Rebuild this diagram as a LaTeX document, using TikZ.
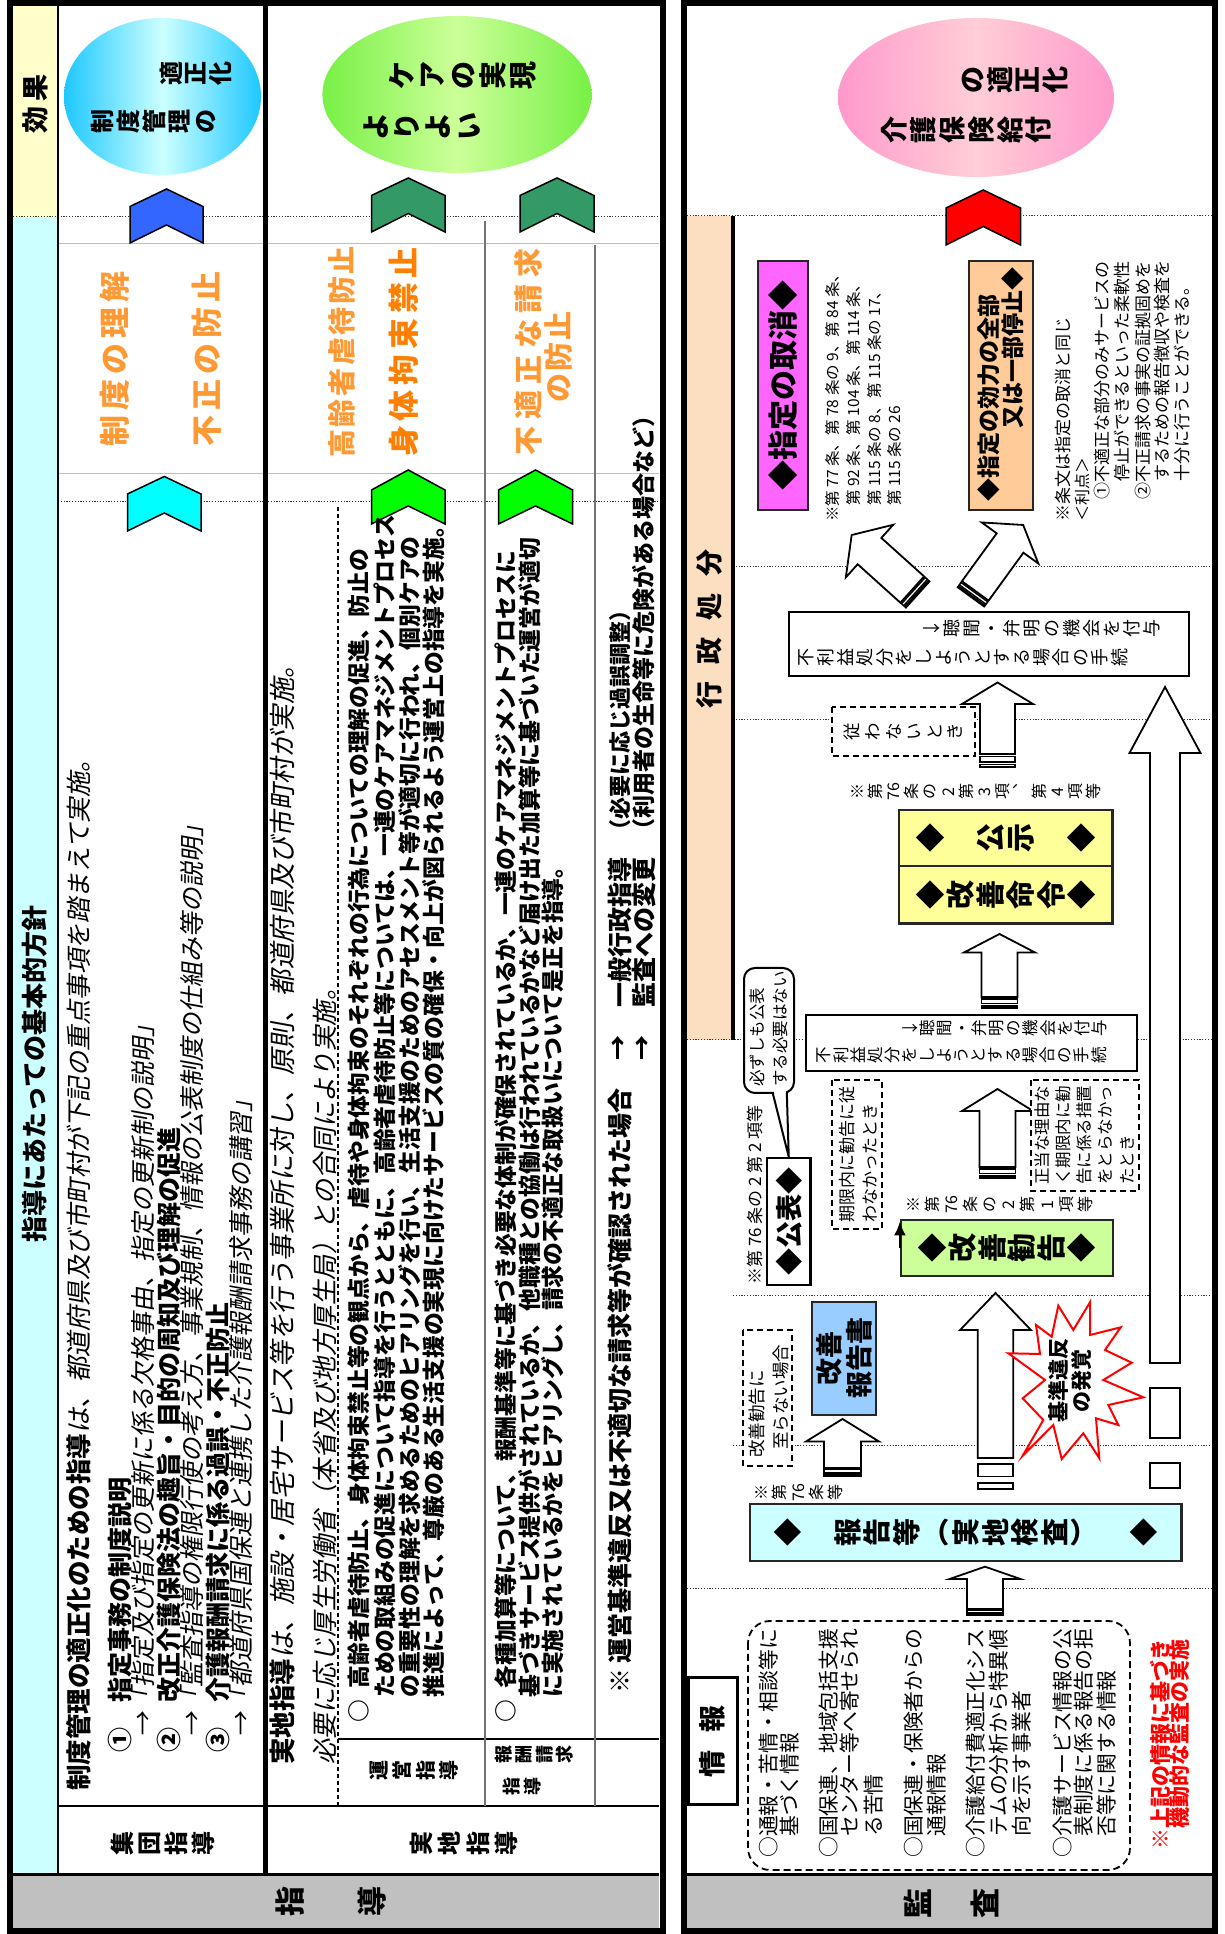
\documentclass[tikz,border=0pt]{standalone}
\usepackage{fontspec}
\setmainfont{Noto Sans CJK JP}
\newfontfamily\jpsl[FakeSlant=0.18]{Noto Sans CJK JP}
\usetikzlibrary{arrows.meta}
\ExplSyntaxOn
\NewDocumentCommand\vst{m}
 {
  \seq_clear:N \l_tmpa_seq
  \tl_map_inline:nn {#1} { \seq_put_right:Nn \l_tmpa_seq {##1} }
  \seq_use:Nn \l_tmpa_seq {\\}
 }
\NewDocumentCommand\spc{mm}
 {
  \seq_clear:N \l_tmpb_seq
  \tl_map_inline:nn {#2} { \seq_put_right:Nn \l_tmpb_seq {##1} }
  \seq_use:Nn \l_tmpb_seq {\hspace{#1}}
 }
\ExplSyntaxOff
\newcommand\fs[2]{\fontsize{#1}{#2}\selectfont\lineskiplimit=-1000pt\lineskip=0pt\relax}
\definecolor{cyanbg}{RGB}{204,255,255}
\definecolor{yelbg}{RGB}{255,255,204}
\definecolor{graybg}{RGB}{192,192,192}
\definecolor{peach}{RGB}{252,222,192}
\definecolor{orng}{RGB}{255,153,51}
\definecolor{orng2}{RGB}{255,128,0}
\definecolor{chblue}{RGB}{51,102,255}
\definecolor{chcyan}{RGB}{0,255,255}
\definecolor{chdkgreen}{RGB}{51,153,102}
\definecolor{chgreen}{RGB}{0,255,0}
\definecolor{chred}{RGB}{255,0,0}
\definecolor{bxcyan}{RGB}{204,255,255}
\definecolor{bxblue}{RGB}{153,204,255}
\definecolor{bxgreen}{RGB}{204,255,153}
\definecolor{bxyel}{RGB}{255,255,153}
\definecolor{bxmag}{RGB}{255,102,255}
\definecolor{bxorg}{RGB}{255,204,153}
\definecolor{elb1}{RGB}{30,200,255}
\definecolor{elb2}{RGB}{204,255,255}
\definecolor{elg1}{RGB}{120,240,70}
\definecolor{elg2}{RGB}{204,255,153}
\definecolor{elp1}{RGB}{255,153,204}
\definecolor{elp2}{RGB}{255,206,214}
\tikzset{
  tx/.style={inner sep=0pt, align=center},
  box/.style={draw=black!85, line width=2.2pt, inner sep=0pt, align=center},
  dbox/.style={draw=black, line width=1.8pt, dash pattern=on 6pt off 4pt, fill=white, inner sep=0pt, align=center},
  dotl/.style={line width=1pt, dash pattern=on 1.2pt off 1.6pt, draw=black!80},
}
\newcommand\chev[7]{\filldraw[fill=#1,draw=black,line width=1.5pt] (#4,-#2) -- (#6,-#2) -- (#7,{-(#2+#3)/2}) -- (#6,-#3) -- (#4,-#3) -- (#5,{-(#2+#3)/2}) -- cycle;}
% tail x, tail y, angle, length, shaft half, head half, head length, stripe unit
\newcommand\sarrow[8]{%
\begin{scope}[shift={(#1,#2)},rotate=#3]
\filldraw[fill=white,draw=black,line width=1.8pt,line join=miter] ({5*#8},-#5) -- ({#4-#7},-#5) -- ({#4-#7},-#6) -- (#4,0) -- ({#4-#7},#6) -- ({#4-#7},#5) -- ({5*#8},#5) -- cycle;
\filldraw[fill=white,draw=black,line width=1.5pt] (0,-#5) rectangle (#8,#5);
\filldraw[fill=white,draw=black,line width=1.5pt] ({2*#8},-#5) rectangle ({4*#8},#5);
\end{scope}}
\begin{document}
\begin{tikzpicture}[x=1pt,y=1pt]
\useasboundingbox (0,0) rectangle (1225,1934);
\fill[white] (0,0) rectangle (1225,1934);
\begin{scope}[rotate=90,transform shape]
\fill[graybg] (6,-13) rectangle (59,-659);
\fill[cyanbg] (59,-13) rectangle (1717,-58);
\fill[yelbg] (1717,-13) rectangle (1928,-58);
\fill[graybg] (6,-687) rectangle (59,-1212);
\fill[peach] (894,-687) rectangle (1718,-733);
\draw[dotl] (1717,-13) -- (1717,-659);
\draw[dotl] (1432,-58) -- (1432,-659);
\draw[dotl] (1718,-687) -- (1718,-1212);
\draw[dotl] (1367,-733) -- (1367,-1212);
\draw[dotl] (1214,-733) -- (1214,-1212);
\draw[dotl] (894,-687) -- (894,-1212);
\draw[dotl] (638,-733) -- (638,-1212);
\draw[dotl] (488,-733) -- (488,-1212);
\draw[dotl] (345,-687) -- (345,-1212);
\draw[black!25,line width=0.8pt] (1461,-58) -- (1461,-659);
\draw[black!25,line width=0.8pt] (1691,-58) -- (1691,-659);
\draw[line width=3pt] (59,-13) -- (59,-659);
\draw[line width=2.5pt] (59,-58) -- (1928,-58);
\draw[line width=5pt] (59,-265) -- (1928,-265);
\draw[line width=2.5pt] (128,-58) -- (128,-659);
\draw[line width=2.5pt] (195,-338) -- (195,-659);
\draw[line width=1.5pt,dash pattern=on 4pt off 3pt] (128,-338) -- (1427,-338);
\draw[black!55,line width=1.8pt] (128,-485) -- (1713,-485);
\draw[black!55,line width=1.8pt] (128,-595) -- (1689,-595);
\draw[line width=3pt] (59,-687) -- (59,-1212);
\draw[line width=4pt] (894,-733) -- (1718,-733);
\end{scope}
% ellipses (portrait frame)
\shade[left color=elb1,right color=elb1,middle color=elb2] (162.5,1837.5) ellipse [x radius=98.5, y radius=78.5];
\shade[left color=elg1,right color=elg1,middle color=elg2] (457,1839.5) ellipse [x radius=134.6, y radius=78.5];
\shade[left color=elp1,right color=elp1,middle color=elp2] (976,1836.5) ellipse [x radius=138, y radius=79.5];
\begin{scope}[rotate=90,transform shape]
% chevrons
\chev{chblue}{130}{203}{1691}{1709}{1727.5}{1745}
\chev{chcyan}{127.5}{201}{1403}{1421}{1440}{1457.5}
\chev{chdkgreen}{371.5}{445}{1702}{1720.5}{1738.5}{1756}
\chev{chdkgreen}{520}{594}{1702}{1720.5}{1738.5}{1756}
\chev{chgreen}{371.5}{445}{1410}{1428}{1444}{1464}
\chev{chgreen}{498.5}{572.6}{1410}{1428}{1444}{1464}
\chev{chred}{946}{1020.5}{1689}{1707.5}{1726}{1744}
% header texts
\node[tx,font=\fs{26}{28}\bfseries] (title) at (860,-35) {指導にあたっての基本的方針};
\node[tx,font=\fs{27}{30}\bfseries] (kouka) at (1830,-35) {\spc{5pt}{効果}};
\node[tx,font=\fs{30}{82}\bfseries] (shidou) at (32,-331) {\vst{指導}};
\node[tx,font=\fs{30}{67}\bfseries] (kansa) at (30,-951.5) {\vst{監査}};
\node[tx,font=\fs{24}{27}\bfseries] (lab1) at (90,-162.6) {\vst{集団指導}};
\node[tx,font=\fs{24}{28.5}\bfseries] (lab2) at (90,-464) {\vst{実地指導}};
\node[tx,font=\fs{20}{23.5}\bfseries] (lab3) at (163,-414) {\vst{運営指導}};
\node[tx,font=\fs{18}{20.5}\bfseries] (lab4) at (179,-534) {\vst{報酬請求}};
\node[tx,font=\fs{18}{21}\bfseries] (lab5) at (147,-522) {\vst{指導}};
% 集団指導 texts
\node[tx,anchor=west,font=\fs{25.5}{28}] (s1) at (143,-79) {{\bfseries 制度管理の適正化のための指導}{\jpsl は、都道府県及び市町村が下記の重点事項を踏まえて実施。}};
\node[tx,anchor=west,font=\fs{25}{28}\bfseries] (s2) at (181,-120) {①　指定事務の制度説明};
\node[tx,anchor=west,font=\fs{25}{28}\jpsl] (s3) at (196,-143) {→「指定及び指定の更新に係る欠格事由、指定の更新制の説明」};
\node[tx,anchor=west,font=\fs{25}{28}\bfseries] (s4) at (181,-169) {②　改正介護保険法の趣旨・目的の周知及び理解の促進};
\node[tx,anchor=west,font=\fs{25}{28}\jpsl] (s5) at (196,-192) {→「監査指導の権限行使の考え方、事業規制、情報の公表制度の仕組み等の説明」};
\node[tx,anchor=west,font=\fs{25}{28}\bfseries] (s6) at (181,-218) {③　介護報酬請求に係る過誤・不正防止};
\node[tx,anchor=west,font=\fs{25}{28}\jpsl] (s7) at (196,-241) {→「都道府県国保連と連携した介護報酬請求事務の講習」};
% 実地指導 texts
\node[tx,anchor=west,font=\fs{26.5}{28}] (j1) at (169,-282) {{\bfseries 実地指導}{\jpsl は、施設・居宅サービス等を行う事業所に対し、原則、都道府県及び市町村が実施。}};
\node[tx,anchor=west,font=\fs{25.5}{28}\jpsl] (j2) at (169,-325) {必要に応じ厚生労働省（本省及び地方厚生局）との合同により実施。};
\node[tx,anchor=west,font=\fs{22.8}{25}\bfseries] (u1) at (211.5,-359) {○\hspace{11.4pt}高齢者虐待防止、身体拘束禁止等の観点から、虐待や身体拘束のそれぞれの行為についての理解の促進、防止の};
\node[tx,anchor=west,font=\fs{22.8}{25}\bfseries] (u2) at (236,-385) {ための取組みの促進について指導を行うとともに、高齢者虐待防止等については、一連のケアマネジメントプロセス};
\node[tx,anchor=west,font=\fs{22.8}{25}\bfseries] (u3) at (236,-410) {の重要性の理解を求めるためのヒアリングを行い、生活支援のためのアセスメント等が適切に行われ、個別ケアの};
\node[tx,anchor=west,font=\fs{22.8}{25}\bfseries] (u4) at (236,-434) {推進によって、尊厳のある生活支援の実現に向けたサービスの質の確保・向上が図られるよう運営上の指導を実施。};
\node[tx,anchor=west,font=\fs{22.8}{25}\bfseries] (v1) at (211.5,-506) {○\hspace{11.4pt}各種加算等について、報酬基準等に基づき必要な体制が確保されているか、一連のケアマネジメントプロセスに};
\node[tx,anchor=west,font=\fs{22.8}{25}\bfseries] (v2) at (236,-530) {基づきサービス提供がされているか、他職種との協働は行われているかなど届け出た加算等に基づいた運営が適切};
\node[tx,anchor=west,font=\fs{22.8}{25}\bfseries] (v3) at (236,-553) {に実施されているかをヒアリングし、請求の不適正な取扱いについて是正を指導。};
\node[tx,anchor=west,font=\fs{25}{28}\bfseries] (w0) at (240,-620) {※};
\node[tx,anchor=west,font=\fs{25}{28}\bfseries] (w1) at (270,-620) {運営基準違反又は不適切な請求等が確認された場合};
\node[tx,font=\fs{25}{28}\bfseries] (w2) at (886,-620) {→};
\node[tx,font=\fs{25}{28}\bfseries] (w3) at (886,-644) {→};
\node[tx,anchor=west,font=\fs{25}{28}\bfseries] (w4) at (926,-620) {一般行政指導};
\node[tx,anchor=west,font=\fs{22}{28}\bfseries] (w5) at (1092,-620) {（必要に応じ過誤調整）};
\node[tx,anchor=west,font=\fs{25}{28}\bfseries] (w6) at (926,-644) {監査への変更};
\node[tx,anchor=west,font=\fs{23}{28}\bfseries] (w7) at (1092,-644) {（利用者の生命等に危険がある場合など）};
% orange texts
\node[tx,font=\fs{31}{34}\bfseries,text=orng] (o1) at (1575,-115) {\spc{5pt}{制度の理解}};
\node[tx,font=\fs{31}{34}\bfseries,text=orng] (o2) at (1575,-207) {\spc{5pt}{不正の防止}};
\node[tx,font=\fs{28}{32}\bfseries,text=orng] (o3) at (1582,-342) {\spc{2.6pt}{高齢者虐待防止}};
\node[tx,font=\fs{31}{34}\bfseries,text=orng2] (o4) at (1582,-404) {\spc{4.7pt}{身体拘束禁止}};
\node[tx,font=\fs{29}{32}\bfseries,text=orng] (o5) at (1582,-528) {\spc{6.5pt}{不適正な請求}};
\node[tx,font=\fs{29}{32}\bfseries,text=orng] (o6) at (1577,-558) {\spc{2pt}{の防止}};
% ellipse texts
\node[tx,font=\fs{24}{25.6}\bfseries] (eb1) at (1812,-153.7) {\vst{制度管理の}};
\node[tx,font=\fs{24}{24.5}\bfseries] (eb2) at (1860,-195.8) {\vst{適正化}};
\node[tx,font=\fs{28}{30.7}\bfseries] (eg1) at (1807.5,-422) {\vst{よりよい}};
\node[tx,font=\fs{28}{30.4}\bfseries] (eg2) at (1858.5,-463) {\vst{ケアの実現}};
\node[tx,font=\fs{27}{28.8}\bfseries] (ep1) at (1804,-966.5) {\vst{介護保険給付}};
\node[tx,font=\fs{27}{27.5}\bfseries] (ep2) at (1854,-1015) {\vst{の適正化}};
% right panel headers
\node[tx,font=\fs{27}{30}\bfseries] (gyosei) at (1305,-709) {\spc{17pt}{行政処分}};
\node[box,line width=3pt,draw=black,fill=white,minimum width=127pt,minimum height=49pt,font=\fs{27}{30}\bfseries] (joho) at (192.5,-712.5) {\spc{18pt}{情報}};
% info box
\node[draw=black,line width=1.8pt,dash pattern=on 7pt off 4pt,rounded corners=22pt,minimum width=249pt,minimum height=382pt,inner sep=0pt] (info) at (188.5,-939) {};
\node[tx,anchor=west,font=\fs{20.8}{22}] (i1) at (76,-769) {○通報・苦情・相談等に};
\node[tx,anchor=west,font=\fs{20.8}{22}] (i2) at (97,-790) {基づく情報};
\node[tx,anchor=west,font=\fs{20.8}{22}] (i3) at (76,-829) {○国保連、地域包括支援};
\node[tx,anchor=west,font=\fs{20.8}{22}] (i4) at (97,-850) {センター等へ寄せられ};
\node[tx,anchor=west,font=\fs{20.8}{22}] (i5) at (97,-873.5) {る苦情};
\node[tx,anchor=west,font=\fs{20.8}{22}] (i6) at (76,-914) {○国保連・保険者からの};
\node[tx,anchor=west,font=\fs{20.8}{22}] (i7) at (97,-937) {通報情報};
\node[tx,anchor=west,font=\fs{20.8}{22}] (i8) at (76,-976) {○介護給付費適正化シス};
\node[tx,anchor=west,font=\fs{20.8}{22}] (i9) at (97,-999) {テムの分析から特異傾};
\node[tx,anchor=west,font=\fs{20.8}{22}] (i10) at (97,-1022) {向を示す事業者};
\node[tx,anchor=west,font=\fs{20.8}{22}] (i11) at (76,-1063) {○介護サービス情報の公};
\node[tx,anchor=west,font=\fs{20.8}{22}] (i12) at (97,-1084) {表制度に係る報告の拒};
\node[tx,anchor=west,font=\fs{20.8}{22}] (i13) at (97,-1107) {否等に関する情報};
\node[tx,anchor=west,font=\fs{21}{22}\bfseries,text=red] (r1) at (84,-1160) {※上記の情報に基づき};
\node[tx,anchor=west,font=\fs{21}{22}\bfseries,text=red] (r2) at (84,-1180) {　機動的な監査の実施};
% arrows
\sarrow{319}{-985}{0}{48.3}{18}{35.4}{12.3}{1.2}
\sarrow{458}{-842.5}{0}{57}{18.5}{36.5}{22.5}{1.6}
\sarrow{445}{-995.5}{0}{196}{17.7}{35.4}{37}{6.2}
\sarrow{756}{-997.5}{0}{89}{18}{35.5}{22}{2.2}
\sarrow{926}{-999.5}{0}{74}{18}{35.5}{18.5}{2.2}
\sarrow{1167}{-997.5}{0}{84.5}{17.5}{35.5}{21.5}{2.6}
\sarrow{446}{-1165}{0}{801}{15}{35.5}{66}{25}
\sarrow{1339.4}{-917.8}{48}{89}{17.7}{35.4}{24}{1.5}
\sarrow{1337}{-970.85}{-36}{89}{16.5}{35}{22.3}{1.5}
% 報告等
\node[box,fill=bxcyan,minimum width=57pt,minimum height=431.5pt,font=\fs{28}{29.6}\bfseries] (houkoku) at (401.5,-965.75) {\vst{◆　報告等︵実地検査︶　◆}};
\node[tx,font=\fs{16}{18.5}] (l_hk) at (441,-799) {\vst{※第{76}条等}};
\node[box,fill=bxblue,minimum width=113pt,minimum height=64pt,font=\fs{27}{30}\bfseries] (kzhok) at (575.5,-844) {改善\\報告書};
\node[dbox,minimum width=136pt,minimum height=49.4pt] (db1) at (536,-767.3) {};
\node[tx,anchor=west,font=\fs{17.5}{20}] (t_kz1) at (476,-757) {改善勧告に};
\node[tx,anchor=west,font=\fs{17.5}{20}] (t_kz2) at (484,-781) {至らない場合};
% star
\filldraw[fill=white,draw=red,line width=2pt] (628.3,-1058.3) -- (604,-1073.3) -- (631.7,-1090) -- (599,-1090) -- (606.7,-1120.7) -- (584,-1105) -- (571.3,-1131.7) -- (554,-1103.3) -- (536.7,-1143.3) -- (529,-1108.3) -- (509,-1118.3) -- (515.7,-1096) -- (475.7,-1099.3) -- (500.7,-1083.3) -- (475,-1061.7) -- (509,-1053.3) -- (478.3,-1022.7) -- (514,-1043.3) -- (535.7,-1022.7) -- (554,-1045) -- (580.7,-1008.3) -- (580,-1040) -- (609,-1036) -- (597.3,-1051.7) -- cycle;
\node[tx,font=\fs{21}{23}\bfseries] (star) at (553,-1070) {基準違反\\の発覚};
% 改善勧告 and 公表
\node[box,fill=bxgreen,minimum width=56pt,minimum height=212pt,font=\fs{29}{29.8}\bfseries] (kankoku) at (686,-1007) {\vst{◆改善勧告◆}};
\node[tx,font=\fs{16}{19.1}] (l_kk) at (729,-1000) {\vst{※第{76}条の2第1項等}};
\node[box,draw=black,fill=white,minimum width=127pt,minimum height=43.5pt,font=\fs{27}{30}\bfseries] (kohyo) at (712.5,-788.75) {◆公表◆};
\node[tx,anchor=west,font=\fs{17}{20}] (l_kh) at (649,-755) {※第 76 条の 2 第 2 項等};
\draw[line width=2pt,-{Latex[length=14pt,width=12pt]}] (kankoku.north) -- (kankoku.north -| kohyo.south);
% callout
\node[draw=black,line width=2pt,rounded corners=11pt,fill=white,minimum width=125pt,minimum height=50pt,inner sep=0pt] (callout) at (903.5,-769) {};
\fill[white] (843,-773.7) -- (kohyo.east) -- (843,-785.8) -- cycle;
\draw[line width=2pt,line join=round] (841,-772.7) -- (kohyo.east) -- (841,-786.8);
\node[tx,anchor=west,font=\fs{16.5}{20}] (c1) at (847,-757) {必ずしも公表};
\node[tx,anchor=west,font=\fs{16.5}{20}] (c2) at (847,-780) {する必要はない};
% dashed boxes
\node[dbox,minimum width=149pt,minimum height=50pt] (db2) at (779.5,-857) {};
\node[tx,anchor=west,font=\fs{17}{20}] (d21) at (711,-847) {期限内に勧告に従};
\node[tx,anchor=west,font=\fs{17}{20}] (d22) at (711,-870) {わなかったとき};
\node[dbox,minimum width=111pt,minimum height=108pt] (db3) at (798.5,-1085) {};
\node[tx,anchor=west,font=\fs{16.5}{20}] (d31) at (749,-1042) {正当な理由な};
\node[tx,anchor=west,font=\fs{16.5}{20}] (d32) at (749,-1063) {く期限内に勧};
\node[tx,anchor=west,font=\fs{16.5}{20}] (d33) at (749,-1084) {告に係る措置};
\node[tx,anchor=west,font=\fs{16.5}{20}] (d34) at (749,-1105.5) {をとらなかっ};
\node[tx,anchor=west,font=\fs{16.5}{20}] (d35) at (749,-1127) {たとき};
\node[dbox,minimum width=49pt,minimum height=143pt,font=\fs{17.5}{20.6}] (db4) at (1202.5,-903.5) {\vst{従わないとき}};
% 不利益処分 boxes
\node[box,draw=black,fill=white,minimum width=56pt,minimum height=331pt] (fur1) at (891,-971.5) {};
\node[tx,font=\fs{16.5}{17.2}] (fur1a) at (879,-961.8) {\vst{不利益処分をしようとする場合の手続}};
\node[tx,font=\fs{16.5}{17.2}] (fur1b) at (906,-1004.8) {\vst{↓聴聞・弁明の機会を付与}};
\node[box,draw=black,fill=white,minimum width=64pt,minimum height=400pt] (fur2) at (1290,-989) {};
\node[tx,font=\fs{18}{19.6}] (fur2a) at (1276,-963.5) {\vst{不利益処分をしようとする場合の手続}};
\node[tx,font=\fs{18}{20}] (fur2b) at (1305,-1041.5) {\vst{↓聴聞・弁明の機会を付与}};
% 改善命令 / 公示
\node[box,fill=bxyel,minimum width=57.5pt,minimum height=213.5pt,font=\fs{29}{30.3}\bfseries] (meirei) at (1039.25,-1005.75) {\vst{◆改善命令◆}};
\node[box,fill=bxyel,minimum width=56pt,minimum height=213.5pt,font=\fs{29}{30.3}\bfseries] (koji) at (1096,-1005.75) {\vst{◆　公示　◆}};
\node[tx,font=\fs{16}{18.2}] (l_mr) at (1142,-976) {\vst{※第{76}条の2第3項︑第4項等}};
% 指定の取消 / 停止
\node[box,fill=bxmag,minimum width=249pt,minimum height=50pt,font=\fs{30}{32}\bfseries] (torikeshi) at (1548.5,-783) {◆指定の取消◆};
\node[box,fill=bxorg,minimum width=249pt,minimum height=64pt] (teishi) at (1548.5,-1001) {};
\node[tx,anchor=west,font=\fs{23}{25}\bfseries] (te1) at (1432,-988.6) {◆指定の効力の全部};
\node[tx,anchor=east,font=\fs{23}{25}\bfseries] (te2) at (1667,-1013) {又は一部停止◆};
\node[tx,anchor=west,font=\fs{15.5}{18}] (k1) at (1412,-833) {※第 77 条、第 78 条の 9、第 84 条、};
\node[tx,anchor=west,font=\fs{15.5}{18}] (k2) at (1428,-854) {第 92 条、第 104 条、第 114 条、};
\node[tx,anchor=west,font=\fs{15.5}{18}] (k3) at (1428,-875) {第 115 条の 8、第 115 条の 17、};
\node[tx,anchor=west,font=\fs{15.5}{18}] (k4) at (1428,-895) {第 115 条の 26};
\node[tx,anchor=west,font=\fs{17}{19}] (m1) at (1412,-1063) {※条文は指定の取消と同じ};
\node[tx,anchor=west,font=\fs{16}{19}] (m2) at (1412,-1082) {＜利点＞};
\node[tx,anchor=west,font=\fs{17}{19}] (m3) at (1434,-1102) {①不適正な部分のみサービスの};
\node[tx,anchor=west,font=\fs{17}{19}] (m4) at (1452,-1121.5) {停止ができるといった柔軟性};
\node[tx,anchor=west,font=\fs{17}{19}] (m5) at (1434,-1142.6) {②不正請求の事実の証拠固めを};
\node[tx,anchor=west,font=\fs{17}{19}] (m6) at (1452,-1162) {するための報告徴収や検査を};
\node[tx,anchor=west,font=\fs{17}{19}] (m7) at (1452,-1181.6) {十分に行うことができる。};
% frames
\draw[line width=6pt] (3,-9.5) rectangle (1931,-662.5);
\draw[line width=6pt] (3,-684) rectangle (1931,-1215);
\end{scope}
\end{tikzpicture}
\end{document}
